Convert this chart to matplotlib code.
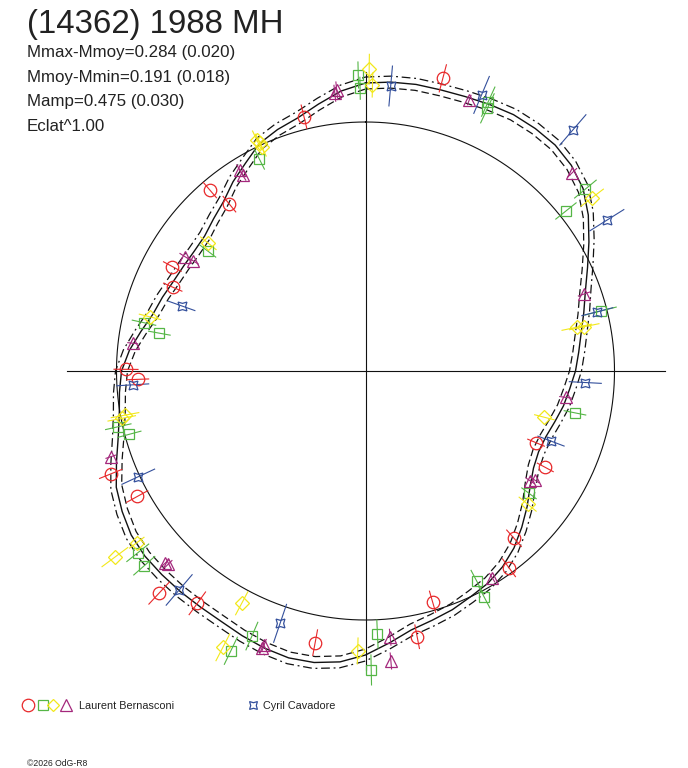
import numpy as np
import matplotlib
matplotlib.use("Agg")
import matplotlib.pyplot as plt

plt.rcParams['font.family'] = ['Liberation Sans', 'DejaVu Sans']

# ---------------- data (phase in degrees, clockwise from top; radius in plot units, circle = 249) -------------
TITLE = "(14362) 1988 MH"
INFO = ["Mmax-Mmoy=0.284 (0.020)", "Mmoy-Mmin=0.191 (0.018)", "Mamp=0.475 (0.030)", "Eclat^1.00"]
OBSERVERS = ["Laurent Bernasconi", "Cyril Cavadore"]
COPYRIGHT = "\u00a92026 OdG-R8"

REF_RADIUS = 249.0
ENVELOPE = 6.0

FIT_PHASE = list(range(0, 360, 5))
FIT_R = [288, 290, 291, 291, 292, 294, 296, 296, 295, 291, 284, 272, 258, 245, 234, 226, 219, 214,
         210, 205, 201, 196, 192, 191, 194, 201, 211, 221, 231, 239, 245, 249, 254, 258, 263, 273,
         284, 292, 296, 297, 295, 292, 289, 288, 288, 288, 288, 286, 281, 275, 265, 256, 250, 247,
         244, 237, 228, 220, 216, 212, 210, 209, 210, 215, 221, 231, 240, 251, 257, 262, 271, 281]

red_phase = [346.4, 14.8, 319.3, 320.8, 298.4, 293.5, 270.4, 267.9, 248.0, 241.2, 222.9, 215.9,
             190.5, 169.0, 163.8, 143.9, 138.4, 118.2, 112.8]
red_r = [261.6, 302.7, 238.6, 215.3, 219.6, 210.2, 239.5, 228.0, 274.8, 260.5, 303.2, 286.8,
         276.3, 270.7, 240.3, 243.5, 223.7, 204.0, 185.0]
red_err = [12, 14, 10, 10, 10, 10, 12, 11, 12, 12, 15, 14, 13, 12, 11, 11, 11, 9, 9]

green_phase = [358.6, 358.9, 24.5, 24.9, 333.4, 307.25, 282.3, 280.4, 257.3, 255.0, 231.4, 228.65,
               205.7, 203.2, 177.4, 178.9, 152.1, 152.3, 126.8, 101.3, 75.7, 51.4, 50.4]
green_r = [296.1, 282.8, 296.0, 289.6, 236.8, 198.2, 226.7, 209.6, 253.4, 244.5, 291.4, 294.7,
           310.5, 288.4, 263.3, 299.0, 237.6, 255.6, 204.2, 213.6, 242.7, 256.5, 285.4]
green_err = [13, 11, 16, 16, 11, 10, 12, 11, 13, 12, 14, 14, 15, 15, 14, 15, 12, 12, 9, 11, 16, 13, 14]

yellow_phase = [0.7, 1.4, 335.1, 334.8, 335.2, 309.1, 284.1, 259.6, 259.0, 233.1, 233.4, 208.05,
                207.3, 181.6, 129.4, 104.5, 78.3, 78.55, 52.6]
yellow_r = [301.7, 286.1, 251.0, 255.2, 246.8, 202.5, 222.2, 244.5, 248.3, 286.0, 312.2, 263.2,
            311.0, 280.1, 209.8, 184.7, 215.7, 223.2, 285.4]
yellow_err = [15, 12, 10, 10, 10, 10, 11, 14, 14, 9, 16, 13, 15, 13, 11, 10, 15, 15, 14]

purple_phase = [353.7, 354.15, 20.95, 328.0, 327.9, 302.35, 302.6, 276.8, 251.4, 226.2, 225.6,
                200.5, 200.3, 174.7, 175.0, 148.5, 123.7, 122.8, 97.5, 70.6, 46.2]
purple_r = [279.4, 282.5, 290.2, 237.0, 231.3, 213.6, 204.5, 234.4, 268.8, 277.8, 275.9,
            296.1, 292.2, 267.4, 291.1, 242.5, 197.7, 201.3, 201.9, 231.7, 286.5]
purple_err = [8, 8, 5, 6, 6, 6, 6, 5, 5, 5, 5, 6, 6, 8, 8, 5, 5, 5, 6, 6, 6]

blue_phase = [5.05, 22.8, 40.7, 58.0, 75.65, 93.0, 110.7, 198.7, 220.4, 245.05, 266.6, 289.5]
blue_r = [286.1, 299.5, 318.0, 284.6, 239.3, 220.1, 198.3, 266.4, 287.5, 250.6, 233.2, 195.0]
blue_err = [20, 20, 20, 20, 16, 16, 14, 20, 20, 18, 16, 14]

# ---------------- styles ----------------
C_RED, C_GREEN, C_YELLOW, C_PURPLE, C_BLUE = "#E8282A", "#55B646", "#F2E81A", "#A4287C", "#34509C"
STAR = (4, 1, 45)
series = [
    (red_phase, red_r, red_err, C_RED, 'o', 9.0),
    (green_phase, green_r, green_err, C_GREEN, 's', 7.5),
    (yellow_phase, yellow_r, yellow_err, C_YELLOW, 'D', 7.0),
    (purple_phase, purple_r, purple_err, C_PURPLE, '^', 8.0),
    (blue_phase, blue_r, blue_err, C_BLUE, STAR, 9.0),
]

W, H = 688, 768
fig = plt.figure(figsize=(W / 100, H / 100), dpi=100)
fig.patch.set_facecolor('white')

CX, CY, RMAX = 365.5, 371.0, 340.0
ax = fig.add_axes([(CX - RMAX) / W, (H - CY - RMAX) / H, 2 * RMAX / W, 2 * RMAX / H], projection='polar')
ax.set_theta_zero_location('N')
ax.set_theta_direction(-1)
ax.set_rlim(0, RMAX)
ax.set_axis_off()

LW = 0.8
# cross hair
for a in (0, 90, 180, 270):
    ax.plot([np.deg2rad(a)] * 2, [0, 299], color='#111111', lw=LW, zorder=1)
# reference circle
tc = np.linspace(0, 2 * np.pi, 721)
ax.plot(tc, np.full_like(tc, REF_RADIUS), color='#111111', lw=LW, zorder=1)

# fitted light curve with envelope
fp = np.deg2rad(np.array(FIT_PHASE + [360]))
fr = np.array(FIT_R + [FIT_R[0]], dtype=float)
ax.plot(fp, fr, color='#111111', lw=1.0, zorder=2)
ax.plot(fp, fr + ENVELOPE, color='#111111', lw=0.9, ls=(0, (7, 3, 1.5, 3)), zorder=2)
ax.plot(fp, fr - ENVELOPE, color='#111111', lw=0.9, ls=(0, (6, 3)), zorder=2)

# observations
for ph, rr, ee, col, mk, ms in series:
    th = np.deg2rad(ph)
    rr = np.asarray(rr, float)
    ee = np.asarray(ee, float)
    for t, r, e in zip(th, rr, ee):
        ax.plot([t, t], [r - e, r + e], color=col, lw=0.8, zorder=3, clip_on=False)
    ax.plot(th, rr, ls='none', marker=mk, ms=ms, mfc='none', mec=col, mew=0.9, zorder=4, clip_on=False)

# ---------------- texts & legend (pixel overlay) ----------------
ov = fig.add_axes([0, 0, 1, 1])
ov.set_xlim(0, W)
ov.set_ylim(H, 0)
ov.set_axis_off()
ov.patch.set_alpha(0)

ov.text(27, 33, TITLE, fontsize=23.8, color='#222222', va='baseline', ha='left')
for i, s in enumerate(INFO):
    ov.text(27, 57 + i * 24.6, s, fontsize=12.2, color='#222222', va='baseline', ha='left')

ly = 705
ov.plot([28], [ly], marker='o', ms=9, mfc='none', mec=C_RED, mew=0.9, ls='none')
ov.plot([43], [ly], marker='s', ms=7.2, mfc='none', mec=C_GREEN, mew=0.9, ls='none')
ov.plot([53], [ly], marker='D', ms=6.5, mfc='none', mec=C_YELLOW, mew=0.9, ls='none')
ov.plot([66], [ly - 0.5], marker='^', ms=8, mfc='none', mec=C_PURPLE, mew=0.9, ls='none')
ov.text(79, 709, OBSERVERS[0], fontsize=7.8, color='#222222', va='baseline', ha='left')
ov.plot([253], [ly], marker=STAR, ms=8, mfc='none', mec=C_BLUE, mew=0.9, ls='none')
ov.text(263, 709, OBSERVERS[1], fontsize=7.8, color='#222222', va='baseline', ha='left')

ov.text(27, 766, COPYRIGHT, fontsize=6.2, color='#222222', va='baseline', ha='left')

fig.savefig("out.png", dpi=100, facecolor='white')
